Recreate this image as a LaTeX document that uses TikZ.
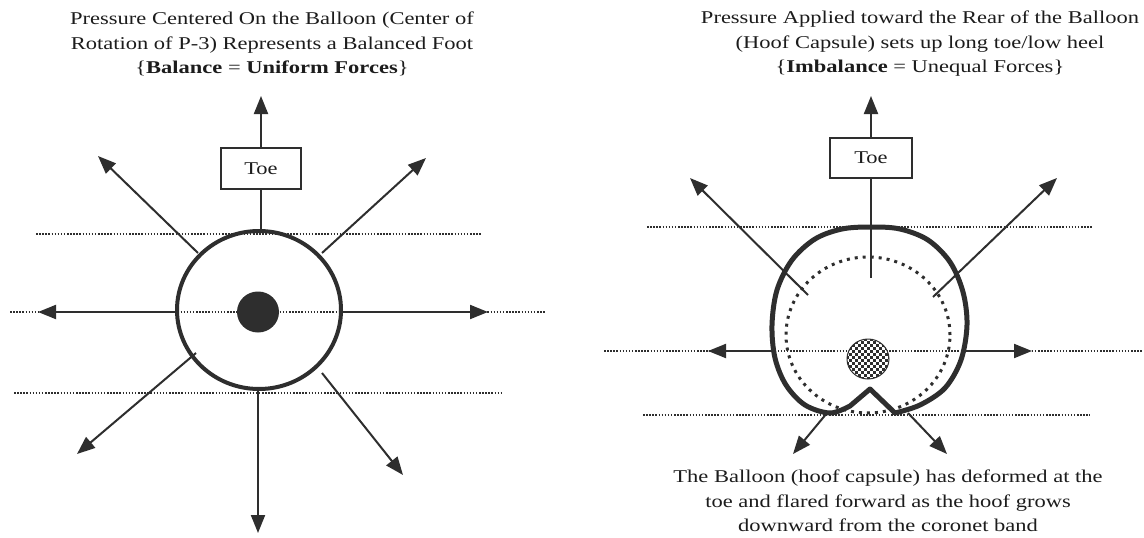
\documentclass[tikz,border=0pt]{standalone}
\usepackage{fontspec}
\setmainfont[FakeStretch=1.25]{Liberation Serif}
\usetikzlibrary{arrows.meta,shapes.geometric}
\definecolor{ink}{HTML}{2E2E2E}
\definecolor{txt}{HTML}{1C1C1C}
\begin{document}
\begin{tikzpicture}[x=1pt,y=-1pt,
  arr/.style={draw=ink, line width=2pt, -{Triangle[length=18pt,width=14pt]}},
  plainline/.style={draw=ink, line width=2pt},
  dots/.style={draw=ink, line width=1.6pt, dash pattern=on 1.5pt off 1.6pt},
  bigdots/.style={draw=ink, line width=3pt, dash pattern=on 3pt off 5pt},
  lbl/.style={font=\fontsize{18}{24.5}\selectfont, text=txt, align=center, inner sep=0pt},
  toebox/.style={draw=ink, line width=2pt, minimum width=80pt, minimum height=41pt, inner sep=0pt, font=\fontsize{18}{20}\selectfont, text=txt, fill=white},
  ring/.style={ellipse, draw=ink, line width=4pt, inner sep=0pt},
  balloon/.style={draw=ink, line width=5pt, line join=round}]

\fill[white] (0,0) rectangle (1144,538);
\useasboundingbox (0,0) rectangle (1144,538);

% ---------------- titles ----------------
\node[lbl] (ltitle) at (272,44) {Pressure Centered On the Balloon (Center of\\Rotation of P-3) Represents a Balanced Foot\\\{\textbf{Balance} = \textbf{Uniform Forces}\}};
\node[lbl] (rtitle) at (920,44) {Pressure Applied toward the Rear of the Balloon\\(Hoof Capsule) sets up long toe/low heel\\\{\textbf{Imbalance} = Unequal Forces\}};
\node[lbl] (caption) at (888,501) {The Balloon (hoof capsule) has deformed at the\\toe and flared forward as the hoof grows\\downward from the coronet band};

% ---------------- left diagram ----------------
\coordinate (LdA1) at (36,234);  \coordinate (LdA2) at (482,234);
\coordinate (LdB1) at (10,312);  \coordinate (LdB2) at (545,312);
\coordinate (LdC1) at (14,393);  \coordinate (LdC2) at (501,393);
\draw[dots] (LdA1) -- (LdA2);
\draw[dots] (LdB1) -- (LdB2);
\draw[dots] (LdC1) -- (LdC2);

\node[ring, minimum width=164pt, minimum height=158pt] (Lring) at (259,310) {};
\node[ellipse, fill=ink, minimum width=42pt, minimum height=41pt, inner sep=0pt] (Ldot) at (258,312) {};
\node[toebox] (Ltoe) at (261,168.5) {Toe};

\coordinate (LtipN) at (261,96);
\coordinate (LtipW) at (38,312);
\coordinate (LtipE) at (488,312);
\coordinate (LtipS) at (258,533);
\coordinate (LtipNW) at (98,156);
\coordinate (LtipNE) at (426,158);
\coordinate (LtipSW) at (77,454);
\coordinate (LtipSE) at (403,475);
\coordinate (LsNW) at (198,253);
\coordinate (LsNE) at (322,253);
\coordinate (LsSW) at (196,353);
\coordinate (LsSE) at (322,373);
\coordinate (LsW) at (177,312);
\coordinate (LsE) at (341,312);
\coordinate (LsS) at (258,389);
\coordinate (LsN) at (261,231);

\draw[plainline] (LsN) -- (Ltoe.south);
\draw[arr] (Ltoe.north) -- (LtipN);
\draw[arr] (LsW) -- (LtipW);
\draw[arr] (LsE) -- (LtipE);
\draw[arr] (LsS) -- (LtipS);
\draw[arr] (LsNW) -- (LtipNW);
\draw[arr] (LsNE) -- (LtipNE);
\draw[arr] (LsSW) -- (LtipSW);
\draw[arr] (LsSE) -- (LtipSE);

% ---------------- right diagram ----------------
\coordinate (RdA1) at (647,227);  \coordinate (RdA2) at (1092,227);
\coordinate (RdB1) at (604,351);  \coordinate (RdB2) at (1142,351);
\coordinate (RdC1) at (643,415);  \coordinate (RdC2) at (1090,415);
\draw[dots] (RdA1) -- (RdA2);
\draw[dots] (RdB1) -- (RdB2);
\draw[dots] (RdC1) -- (RdC2);

% inner dotted (original) balloon
\draw[bigdots] (868,335) ellipse [x radius=82pt, y radius=78pt];

% deformed balloon
\draw[balloon] plot[smooth, tension=0.55] coordinates {(850,406) (830,413) (805,405) (786,385) (775,358) (772,325) (777,290) (792,260) (815,239) (842,229) (871,227) (900,229) (928,240) (950,262) (963,292) (967,325) (961,360) (945,388) (920,405) (895,413)} -- (870,389) -- cycle;

% checkered centre
\begin{scope}
\clip (868,359) ellipse [x radius=21pt, y radius=20pt];
\fill[white] (846,338) rectangle (890,380);
\foreach \i in {0,...,14}{
  \foreach \j in {0,...,7}{
    \fill[ink] ({846+3*\i},{338+6*\j+3*mod(\i,2)}) rectangle ++(3,3);
  }
}
\end{scope}
\node[ellipse, draw=ink, line width=1pt, minimum width=42pt, minimum height=40pt, inner sep=0pt] (Rdot) at (868,359) {};

\node[toebox, minimum width=82pt, minimum height=40pt] (Rtoe) at (871,158) {Toe};

\coordinate (RtipN) at (871,96);
\coordinate (RsN) at (871,278);
\coordinate (RtipW) at (708,351);
\coordinate (RtipE) at (1032,351);
\coordinate (RsW) at (773,351);
\coordinate (RsE) at (961,351);
\coordinate (RsNW) at (808,295);
\coordinate (RsNE) at (933,297);
\coordinate (RtipNW) at (690,178);
\coordinate (RtipNE) at (1057,178);
\coordinate (RsSW) at (827,413);
\coordinate (RsSE) at (908,413);
\coordinate (RtipSW) at (793,454);
\coordinate (RtipSE) at (947,454);

\draw[plainline] (Rtoe.south) -- (RsN);
\draw[arr] (Rtoe.north) -- (RtipN);
\draw[arr] (RsW) -- (RtipW);
\draw[arr] (RsE) -- (RtipE);
\draw[arr] (RsNW) -- (RtipNW);
\draw[arr] (RsNE) -- (RtipNE);
\draw[arr] (RsSW) -- (RtipSW);
\draw[arr] (RsSE) -- (RtipSE);
\end{tikzpicture}
\end{document}
